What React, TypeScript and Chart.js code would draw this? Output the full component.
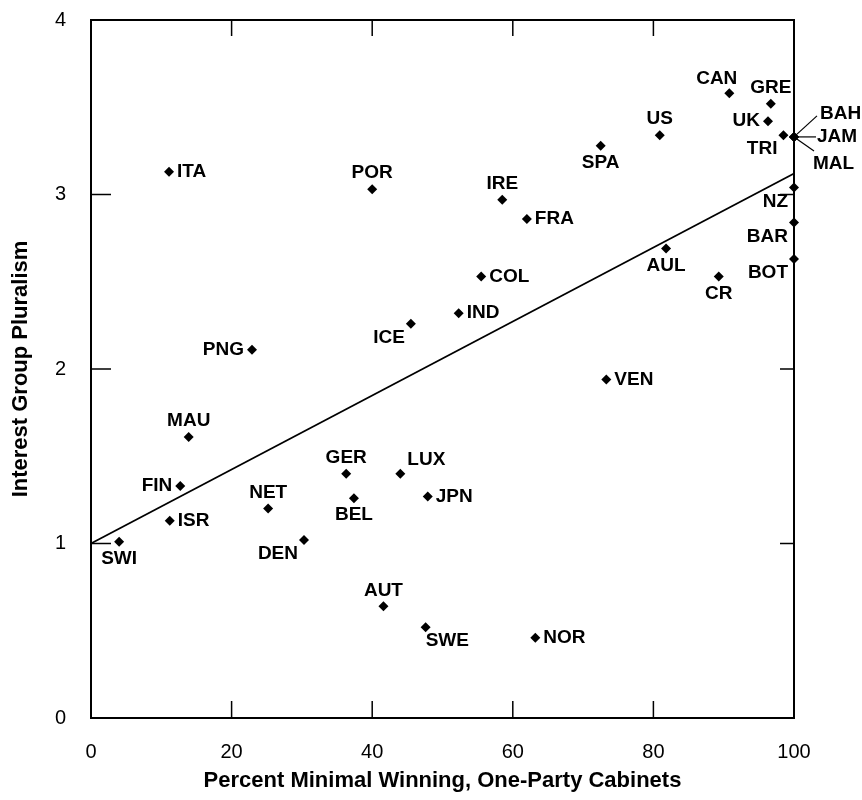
import React, { useEffect, useRef } from "react";
import { Chart, registerables } from "chart.js";

Chart.register(...registerables);

const countries = ["SWI","ISR","FIN","MAU","PNG","NET","DEN","GER","BEL","ITA","POR","ICE","AUT","LUX","IND","SWE","JPN","COL","IRE","FRA","NOR","SPA","VEN","US","AUL","CR","CAN","GRE","UK","TRI","BAH","JAM","MAL","NZ","BAR","BOT"];
const minimalWinning = [4.0,11.2,12.7,13.9,22.9,25.2,30.3,36.3,37.4,11.1,40.0,45.5,41.6,44.0,52.3,47.6,47.9,55.5,58.5,62.0,63.2,72.5,73.3,80.9,81.8,89.3,90.8,96.7,96.3,98.5,100,100,100,100,100,100];
const pluralism = [1.01,1.13,1.33,1.61,2.11,1.20,1.02,1.40,1.26,3.13,3.03,2.26,0.64,1.40,2.32,0.52,1.27,2.53,2.97,2.86,0.46,3.28,1.94,3.34,2.69,2.53,3.58,3.52,3.42,3.34,3.33,3.33,3.33,3.04,2.84,2.63];
const labelSide = ["b","r","l","a","l","a","bl","a","b","r","a","bl","a","ar","r","br","r","r","a","r","r","b","r","a","b","b","al","a","l","bl","lead1","lead2","lead3","bl","bl","bl"];

const fitX = [0, 100];
const fitY = [1.0, 3.12];

const xTicks = [0, 20, 40, 60, 80, 100];
const yTicks = [0, 1, 2, 3, 4];

const xTitle = "Percent Minimal Winning, One-Party Cabinets";
const yTitle = "Interest Group Pluralism";

const FONT = "'Liberation Sans', Arial, Helvetica, sans-serif";

const OFFS: Record<string, { dx: number; dy: number; align: CanvasTextAlign; lx?: number; ly?: number }> = {
  r: { dx: 8, dy: 0, align: "left" },
  l: { dx: -8, dy: 0, align: "right" },
  a: { dx: 0, dy: -16, align: "center" },
  b: { dx: 0, dy: 17, align: "center" },
  ar: { dx: 7, dy: -14, align: "left" },
  al: { dx: 8, dy: -15, align: "right" },
  bl: { dx: -6, dy: 14, align: "right" },
  br: { dx: 0, dy: 14, align: "left" },
  lead1: { dx: 26, dy: -23, align: "left", lx: 23, ly: -21 },
  lead2: { dx: 23, dy: 0, align: "left", lx: 22, ly: 0 },
  lead3: { dx: 19, dy: 27, align: "left", lx: 20, ly: 14 },
};

const framePlugin = {
  id: "frameTicks",
  beforeDatasetsDraw(chart: any) {
    const { ctx, chartArea, scales } = chart;
    const { left, right, top, bottom } = chartArea;
    ctx.save();
    ctx.strokeStyle = "#000";
    ctx.lineWidth = 2;
    ctx.strokeRect(left, top, right - left, bottom - top);
    ctx.lineWidth = 1.5;
    ctx.beginPath();
    xTicks.slice(1, -1).forEach((v) => {
      const px = scales.x.getPixelForValue(v);
      ctx.moveTo(px, bottom);
      ctx.lineTo(px, bottom - 17);
      ctx.moveTo(px, top);
      ctx.lineTo(px, top + 16);
    });
    yTicks.slice(1, -1).forEach((v) => {
      const py = scales.y.getPixelForValue(v);
      ctx.moveTo(left, py);
      ctx.lineTo(left + 20, py);
      ctx.moveTo(right, py);
      ctx.lineTo(right - 14, py);
    });
    ctx.stroke();
    ctx.restore();
  },
};

const labelPlugin = {
  id: "countryLabels",
  afterDatasetsDraw(chart: any) {
    const { ctx } = chart;
    const meta = chart.getDatasetMeta(1);
    ctx.save();
    ctx.fillStyle = "#000";
    ctx.strokeStyle = "#000";
    ctx.font = `bold 19px ${FONT}`;
    ctx.textBaseline = "middle";
    meta.data.forEach((pt: any, i: number) => {
      const o = OFFS[labelSide[i]];
      if (o.lx !== undefined) {
        ctx.lineWidth = 1.2;
        ctx.beginPath();
        ctx.moveTo(pt.x, pt.y);
        ctx.lineTo(pt.x + o.lx, pt.y + (o.ly as number));
        ctx.stroke();
      }
      ctx.textAlign = o.align;
      ctx.fillText(countries[i], pt.x + o.dx, pt.y + o.dy);
    });
    ctx.restore();
  },
};

export default function App() {
  const ref = useRef<HTMLCanvasElement | null>(null);
  useEffect(() => {
    if (!ref.current) return;
    const chart = new Chart(ref.current, {
      type: "scatter",
      data: {
        datasets: [
          {
            type: "line",
            data: fitX.map((x, i) => ({ x, y: fitY[i] })),
            borderColor: "#000",
            borderWidth: 1.6,
            pointRadius: 0,
            fill: false,
          },
          {
            data: minimalWinning.map((x, i) => ({ x, y: pluralism[i] })),
            pointStyle: "rectRot",
            pointRadius: 5,
            backgroundColor: "#000",
            borderColor: "#000",
            borderWidth: 0,
            clip: false,
          } as any,
        ],
      },
      options: {
        animation: false,
        responsive: true,
        maintainAspectRatio: false,
        layout: { padding: { left: 0, right: 68, top: 20, bottom: 0 } },
        plugins: { legend: { display: false }, tooltip: { enabled: false } },
        scales: {
          x: {
            type: "linear",
            min: 0,
            max: 100,
            afterFit: (s: any) => { s.height = 82; s.paddingLeft = 0; s.paddingRight = 0; },
            afterBuildTicks: (s: any) => { s.ticks = xTicks.map((v) => ({ value: v })); },
            grid: { display: false, drawTicks: false },
            border: { display: false },
            ticks: { padding: 22, color: "#000", font: { family: FONT, size: 20 } },
            title: {
              display: true,
              text: xTitle,
              color: "#000",
              font: { family: FONT, size: 22, weight: "bold" },
              padding: { top: 0, bottom: 6 },
            },
          },
          y: {
            type: "linear",
            min: 0,
            max: 4,
            afterFit: (s: any) => { s.width = 91; s.paddingTop = 0; s.paddingBottom = 0; },
            afterBuildTicks: (s: any) => { s.ticks = yTicks.map((v) => ({ value: v })); },
            grid: { display: false, drawTicks: false },
            border: { display: false },
            ticks: { padding: 25, color: "#000", font: { family: FONT, size: 20 } },
            title: {
              display: true,
              text: yTitle,
              color: "#000",
              font: { family: FONT, size: 22, weight: "bold" },
              padding: { top: 8, bottom: 0 },
            },
          },
        },
      },
      plugins: [framePlugin, labelPlugin],
    });
    return () => chart.destroy();
  }, []);
  return (
    <div style={{ position: "absolute", left: 0, top: 0, width: 862, height: 800, background: "#fff" }}>
      <canvas ref={ref} />
    </div>
  );
}
